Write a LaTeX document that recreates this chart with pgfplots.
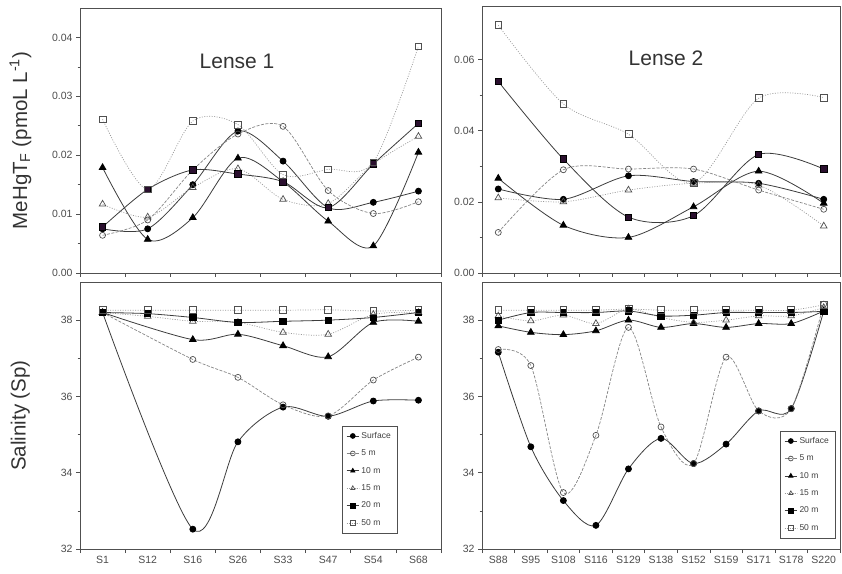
\documentclass[border=0pt]{standalone}
\usepackage{fontspec}
\setmainfont{Liberation Sans}
\usepackage{pgfplots}
\pgfplotsset{compat=1.18}
\usepackage{pgfplotstable}

\definecolor{axc}{HTML}{505050}
\definecolor{lsolid}{HTML}{3c3c3c}
\definecolor{ldash}{HTML}{858585}
\definecolor{ldot}{HTML}{9a9a9a}
\definecolor{sqp}{HTML}{2a0f2e}
\definecolor{txt}{HTML}{333333}

\pgfplotstableread{
x s m5 m10 m15 m20 m50
0 0.0075 0.0064 0.0179 0.0117 0.0078 0.0261
1 0.0075 0.0090 0.0057 0.0095 0.0142 0.0142
2 0.0150 0.0175 0.0094 0.0145 0.0175 0.0258
3 0.0241 0.0236 0.0195 0.0177 0.0168 0.0252
4 0.0190 0.0249 0.0155 0.0125 0.0155 0.0167
5 0.0111 0.0140 0.0088 0.0118 0.0111 0.0176
6 0.0120 0.0101 0.0046 0.0185 0.0185 0.0188
7 0.0139 0.0121 0.0205 0.0232 0.0254 0.0385
}\tlA

\pgfplotstableread{
x s m5 m10 m15 m20 m50
0 0.0236 0.0114 0.0266 0.0211 0.0538 0.0696
2 0.0207 0.0290 0.0134 0.0200 0.0320 0.0475
4 0.0273 0.0292 0.0100 0.0233 0.0157 0.0390
6 0.0257 0.0292 0.0186 0.0252 0.0161 0.0253
8 0.0252 0.0233 0.0286 0.0247 0.0333 0.0491
10 0.0207 0.0179 0.0196 0.0132 0.0292 0.0493
}\trB

\pgfplotstableread{
x s m5 m10 m15 m20 m50
0 38.20 38.20 38.20 38.20 38.20 38.26
1 nan nan nan 38.10 38.17 38.26
2 32.52 36.97 37.49 37.97 38.07 38.26
3 34.81 36.50 37.63 37.94 37.94 38.26
4 35.72 35.78 37.33 37.68 37.97 38.26
5 35.48 35.49 37.04 37.63 38.00 38.27
6 35.88 36.43 37.94 38.15 38.07 38.24
7 35.90 37.03 37.97 38.20 38.20 38.26
}\blC

\pgfplotstableread{
x s m5 m10 m15 m20 m50
0 37.16 37.23 37.85 38.11 38.00 38.26
1 34.68 36.81 37.68 37.98 38.20 38.26
2 33.27 33.48 37.62 38.13 38.20 38.26
3 32.62 34.98 37.72 37.91 38.20 38.26
4 34.10 37.81 38.00 38.29 38.24 38.29
5 34.90 35.20 37.81 38.07 38.11 38.26
6 34.24 34.24 37.91 37.94 38.13 38.26
7 34.75 37.03 37.81 38.00 38.20 38.26
8 35.62 35.62 37.91 38.11 38.20 38.26
9 35.68 35.68 37.91 38.11 38.20 38.26
10 38.24 38.42 38.24 38.33 38.23 38.40
}\brD

\pgfplotsset{
  panel/.style={
    scale only axis, anchor=south west,
    axis line style={axc, line width=0.8pt},
    every tick/.style={axc, line width=0.6pt},
    tick label style={text=black!70, font=\fontsize{10.5}{12}\selectfont},
    /pgf/number format/assume math mode=true,
    xtick pos=bottom, ytick pos=left, tick align=outside,
    major tick length=4pt, minor tick length=2.5pt,
    x tick label as interval,
    unbounded coords=discard,
    minor y tick num=1,
    legend cell align=left,
    legend image code/.code={\draw[mark repeat=2,mark phase=2, mark size=2.4pt] plot coordinates {(0cm,0cm)(0.22cm,0cm)(0.44cm,0cm)};},
  },
  surf/.style={smooth, color=lsolid, line width=0.8pt, mark=*, mark size=3pt, mark options={solid, fill=black, draw=black}},
  m5/.style={smooth, color=ldash, line width=0.7pt, dash pattern=on 3pt off 1.5pt, mark=o, mark size=3pt, mark options={solid, fill=white, draw=axc}},
  m10/.style={smooth, color=lsolid, line width=0.8pt, mark=triangle*, mark size=3.8pt, mark options={solid, fill=black, draw=black}},
  m15/.style={smooth, color=ldot, line width=0.7pt, dash pattern=on 1pt off 1.5pt, mark=triangle, mark size=3.8pt, mark options={solid, fill=white, draw=axc}},
  m20/.style={smooth, color=lsolid, line width=0.8pt, mark=square*, mark size=3.2pt, mark options={solid, fill=black, draw=black}},
  m20p/.style={smooth, color=lsolid, line width=0.8pt, mark=square*, mark size=3.2pt, mark options={solid, fill=sqp, draw=black}},
  m50/.style={smooth, color=ldot, line width=0.7pt, dash pattern=on 1pt off 1.5pt, mark=square, mark size=3.4pt, mark options={solid, fill=white, draw=axc}},
  leg/.style={legend style={draw=axc, fill=white, font=\fontsize{8.5}{10}\selectfont, text=black!75, row sep=6pt, inner sep=4pt}},
}

\begin{document}
\begin{tikzpicture}
\useasboundingbox (0pt,0pt) rectangle (842pt,573pt);

% Top-left: Lense 1 MeHg
\begin{axis}[panel, at={(80pt,300pt)}, width=361pt, height=265pt,
  xmin=-0.5, xmax=7.5, ymin=0, ymax=0.045,
  xtick={-0.5,0.5,...,7.5}, xticklabels={},
  ytick={0,0.01,0.02,0.03,0.04},
  scaled y ticks=false,
  yticklabel style={/pgf/number format/.cd, fixed, fixed zerofill, precision=2},
  ylabel={MeHgT\textsubscript{F} (pmoL L\textsuperscript{-1})},
  ylabel style={at={(axis description cs:-0.165,0.5)}, anchor=center, font=\fontsize{20.5}{24}\selectfont, text=txt},
]
\addplot[surf] table[x=x,y=s]{\tlA};
\addplot[m5] table[x=x,y=m5]{\tlA};
\addplot[m10] table[x=x,y=m10]{\tlA};
\addplot[m15] table[x=x,y=m15]{\tlA};
\addplot[m20p] table[x=x,y=m20]{\tlA};
\addplot[m50] table[x=x,y=m50]{\tlA};
\node[font=\fontsize{21}{24}\selectfont, text=txt] at (rel axis cs:0.435,0.80) {Lense 1};
\end{axis}

% Top-right: Lense 2 MeHg
\begin{axis}[panel, at={(482pt,300pt)}, width=358pt, height=267pt,
  xmin=-0.5, xmax=10.5, ymin=0, ymax=0.075,
  xtick={-0.5,0.5,...,10.5}, xticklabels={},
  ytick={0,0.02,0.04,0.06},
  scaled y ticks=false,
  yticklabel style={/pgf/number format/.cd, fixed, fixed zerofill, precision=2},
]
\addplot[surf] table[x=x,y=s]{\trB};
\addplot[m5] table[x=x,y=m5]{\trB};
\addplot[m10] table[x=x,y=m10]{\trB};
\addplot[m15] table[x=x,y=m15]{\trB};
\addplot[m20p] table[x=x,y=m20]{\trB};
\addplot[m50] table[x=x,y=m50]{\trB};
\node[font=\fontsize{21}{24}\selectfont, text=txt] at (rel axis cs:0.514,0.805) {Lense 2};
\end{axis}

% Bottom-left: Lense 1 salinity
\begin{axis}[panel, leg, at={(80pt,24pt)}, width=361pt, height=267pt,
  xmin=-0.5, xmax=7.5, ymin=32, ymax=39,
  xtick={-0.5,0.5,...,7.5},
  xticklabels={S1,S12,S16,S26,S33,S47,S54,S68},
  ytick={32,34,36,38},
  ylabel={Salinity (Sp)},
  ylabel style={at={(axis description cs:-0.165,0.5)}, anchor=center, font=\fontsize{20.5}{24}\selectfont, text=txt},
  legend style={at={(0.878,0.06)}, anchor=south east},
]
\addplot[surf] table[x=x,y=s]{\blC};
\addlegendentry{Surface}
\addplot[m5] table[x=x,y=m5]{\blC};
\addlegendentry{5 m}
\addplot[m10] table[x=x,y=m10]{\blC};
\addlegendentry{10 m}
\addplot[m15] table[x=x,y=m15]{\blC};
\addlegendentry{15 m}
\addplot[m20] table[x=x,y=m20]{\blC};
\addlegendentry{20 m}
\addplot[m50] table[x=x,y=m50]{\blC};
\addlegendentry{50 m}
\end{axis}

% Bottom-right: Lense 2 salinity
\begin{axis}[panel, leg, at={(482pt,24pt)}, width=358pt, height=267pt,
  xmin=-0.5, xmax=10.5, ymin=32, ymax=39,
  xtick={-0.5,0.5,...,10.5},
  xticklabels={S88,S95,S108,S116,S129,S138,S152,S159,S171,S178,S220},
  ytick={32,34,36,38},
  legend style={at={(0.986,0.041)}, anchor=south east},
]
\addplot[surf] table[x=x,y=s]{\brD};
\addlegendentry{Surface}
\addplot[m5] table[x=x,y=m5]{\brD};
\addlegendentry{5 m}
\addplot[m10] table[x=x,y=m10]{\brD};
\addlegendentry{10 m}
\addplot[m15] table[x=x,y=m15]{\brD};
\addlegendentry{15 m}
\addplot[m20] table[x=x,y=m20]{\brD};
\addlegendentry{20 m}
\addplot[m50] table[x=x,y=m50]{\brD};
\addlegendentry{50 m}
\end{axis}
\end{tikzpicture}
\end{document}
